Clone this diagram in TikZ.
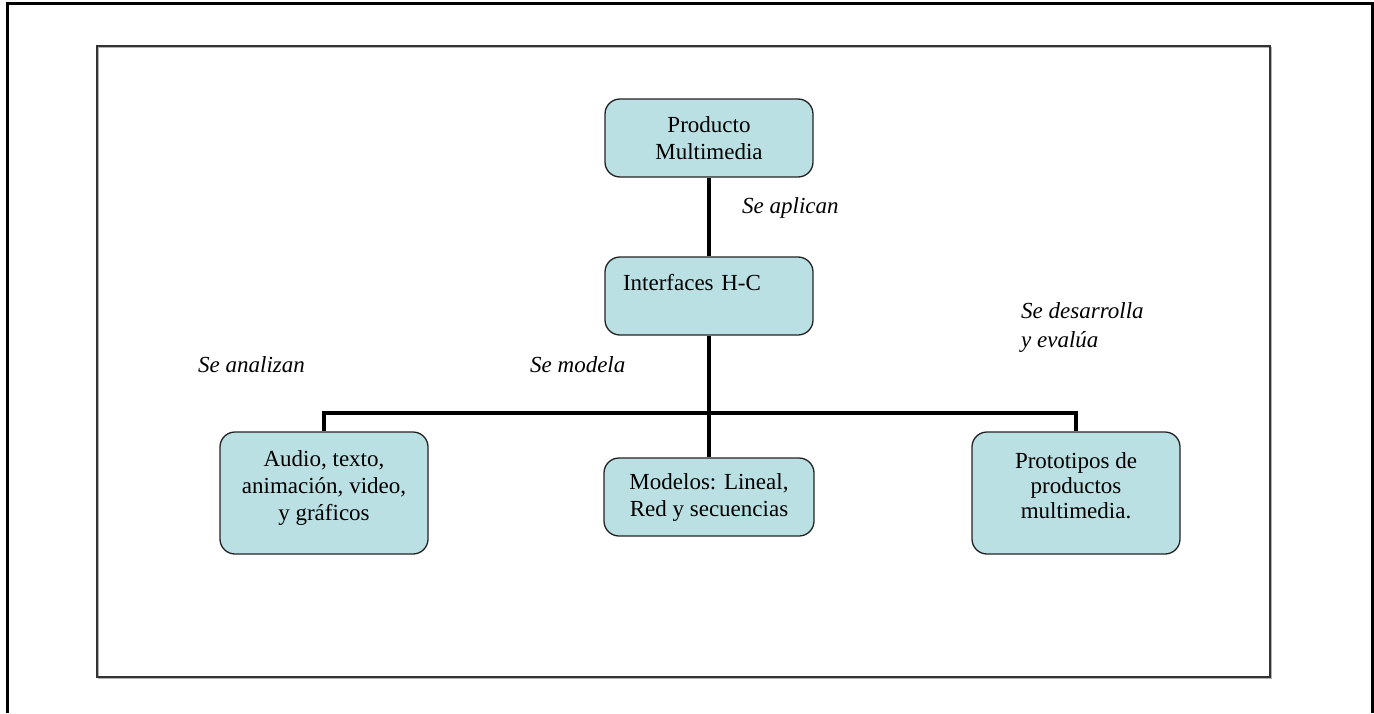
\documentclass[tikz,border=0pt]{standalone}
\usepackage{fontspec}
\setmainfont{Liberation Serif}
\definecolor{boxfill}{RGB}{187,224,227}
\definecolor{boxline}{RGB}{35,35,35}
\tikzset{
  boxnode/.style={draw=boxline, fill=boxfill, rounded corners=15bp, line width=1.3bp,
    align=center, inner sep=0pt, font=\fontsize{23bp}{27bp}\selectfont},
  linklabel/.style={inner sep=0pt, font=\fontsize{23bp}{29bp}\selectfont\itshape, anchor=west},
  conn/.style={line width=4bp, draw=black}
}
\begin{document}
\begin{tikzpicture}[x=1bp,y=-1bp]
\useasboundingbox (0,0) rectangle (1374,713);
% outer frame (open at the bottom)
\draw[line width=3bp] (7,713) -- (7,4) -- (1372,4) -- (1372,713);
% inner frame with light shadow
\draw[line width=1.5bp, gray!60] (98.5,47.5) rectangle (1271.5,678.5);
\draw[line width=2bp, black!80] (97,46) rectangle (1270,677);

% boxes
\node[boxnode, minimum width=208bp, minimum height=78bp] (prod) at (709,138) {Producto\\Multimedia};
\node[boxnode, minimum height=78bp, text width=172bp, inner xsep=18bp, align=left] (intf) at (709,296) {Interfaces H-C\\\mbox{}};
\node[boxnode, minimum width=208bp, minimum height=122bp] (aud) at (324,493) {Audio, texto,\\animación, video,\\y gráficos\\[-12bp]\mbox{}};
\node[boxnode, minimum width=210bp, minimum height=78bp] (mod) at (709,497) {Modelos: Lineal,\\Red y secuencias};
\node[boxnode, minimum width=208bp, minimum height=122bp, font=\fontsize{23bp}{25bp}\selectfont] (pro) at (1076,493) {Prototipos de\\productos\\multimedia.\\[-10bp]\mbox{}};

% connectors
\coordinate (bus) at (709,413);
\draw[conn] (prod.south) -- (intf.north);
\draw[conn] (intf.south) -- (mod.north);
\draw[conn] (aud.north) |- (bus) -| (pro.north);

% labels
\node[linklabel] (lapl) at (742,208) {Se aplican};
\node[linklabel] (lana) at (198,365) {Se analizan};
\node[linklabel] (lmod) at (530,365) {Se modela};
\node[linklabel, align=left] (ldes) at (1021,327.5) {Se desarrolla\\y evalúa};
\end{tikzpicture}
\end{document}
